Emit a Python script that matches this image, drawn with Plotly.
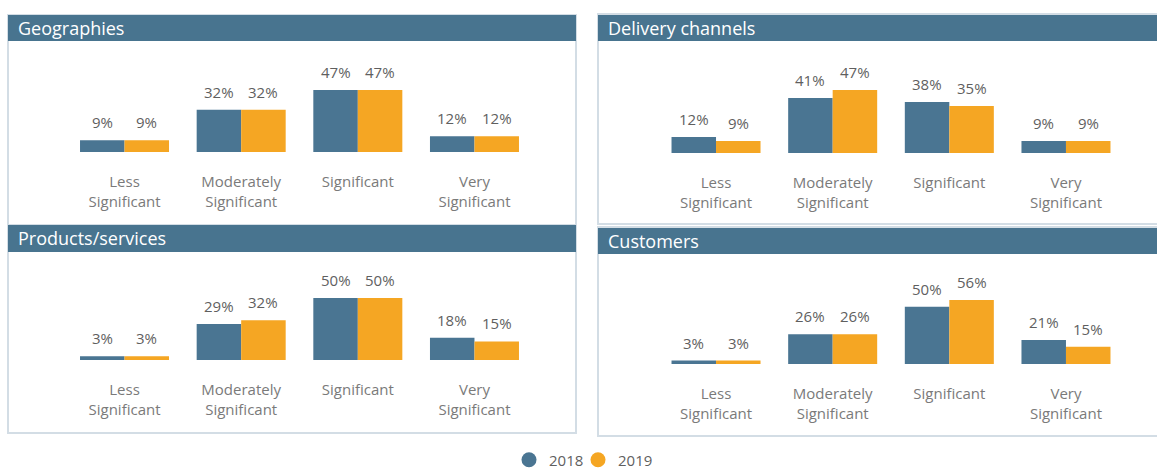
import plotly.graph_objects as go

# figure is slightly taller than the window so the legend never forces a margin
W, H = 1157, 480

categories = ["Less<br>Significant", "Moderately<br>Significant", "Significant", "Very<br>Significant"]
series_names = ["2018", "2019"]

geo_2018 = [9, 32, 47, 12]
geo_2019 = [9, 32, 47, 12]
deliv_2018 = [12, 41, 38, 9]
deliv_2019 = [9, 47, 35, 9]
prod_2018 = [3, 29, 50, 18]
prod_2019 = [3, 32, 50, 15]
cust_2018 = [3, 26, 50, 21]
cust_2019 = [3, 26, 56, 15]

panel_titles = ["Geographies", "Delivery channels", "Products/services", "Customers"]

C2018 = "#4a7592"
C2019 = "#f5a623"
HEADER = "#48748f"
BORDER = "#d3dde5"
LABEL = "#5f5f5f"
CAT = "#7a7a7a"


def fx(p):
    return p / W


def fy(p):
    return 1 - p / H


# panel layout in pixels
panels = [
    dict(title=panel_titles[0], d18=geo_2018, d19=geo_2019, xdom=(66.2, 532.8), ydom=(90, 152),
         box=(8, 15, 576, 225), head=(8, 15, 576, 41)),
    dict(title=panel_titles[1], d18=deliv_2018, d19=deliv_2019, xdom=(657.7, 1124.3), ydom=(90, 153),
         box=(598, 14, 1162, 224), head=(598, 15, 1162, 41)),
    dict(title=panel_titles[2], d18=prod_2018, d19=prod_2019, xdom=(66.2, 532.8), ydom=(298, 360),
         box=(8, 225, 576, 433), head=(8, 225, 576, 252)),
    dict(title=panel_titles[3], d18=cust_2018, d19=cust_2019, xdom=(657.7, 1124.3), ydom=(300, 364),
         box=(598, 227, 1162, 436), head=(598, 228, 1162, 254)),
]

fig = go.Figure()
shapes = []
annotations = []
layout_axes = {}

for i, p in enumerate(panels):
    n = "" if i == 0 else str(i + 1)
    xa, ya = "x" + n, "y" + n
    for name, vals, col in [(series_names[0], p["d18"], C2018), (series_names[1], p["d19"], C2019)]:
        fig.add_trace(go.Bar(x=categories, y=vals, name=name, marker=dict(color=col, line=dict(width=0)),
                             xaxis=xa, yaxis=ya, showlegend=False, hoverinfo="skip"))
        sgn = -1 if name == "2018" else 1
        for c, v in zip(categories, vals):
            annotations.append(dict(x=c, y=v, xref=xa, yref=ya, text=f"{v}%", showarrow=False,
                                    xshift=sgn * 22.3, yshift=18, yanchor="middle",
                                    font=dict(family="Open Sans", size=15, color=LABEL)))
    layout_axes["xaxis" + n] = dict(domain=[fx(p["xdom"][0]), fx(p["xdom"][1])], anchor=ya,
                                    showgrid=False, zeroline=False, showline=False,
                                    ticks="outside", ticklen=16, tickcolor="rgba(0,0,0,0)",
                                    tickfont=dict(family="Open Sans", size=15, color=CAT),
                                    fixedrange=True)
    maxv = max(max(p["d18"]), max(p["d19"]))
    layout_axes["yaxis" + n] = dict(domain=[fy(p["ydom"][1]), fy(p["ydom"][0])], anchor=xa,
                                    range=[0, maxv], visible=False, fixedrange=True)
    x0, y0, x1, y1 = p["box"]
    shapes.append(dict(type="rect", xref="paper", yref="paper", x0=fx(x0), x1=fx(x1), y0=fy(y1), y1=fy(y0),
                       line=dict(color=BORDER, width=2), fillcolor="rgba(0,0,0,0)", layer="below"))
    x0, y0, x1, y1 = p["head"]
    shapes.append(dict(type="rect", xref="paper", yref="paper", x0=fx(x0), x1=fx(x1), y0=fy(y1), y1=fy(y0),
                       line=dict(width=0), fillcolor=HEADER, layer="below"))
    annotations.append(dict(x=fx(x0 + 8), y=fy((y0 + y1) / 2), xref="paper", yref="paper", text=p["title"],
                            showarrow=False, xanchor="left", yanchor="middle",
                            font=dict(family="Open Sans", size=18, color="white")))

# legend-only traces (one small legend per year)
for name, col, lg in [(series_names[0], C2018, "legend"), (series_names[1], C2019, "legend2")]:
    fig.add_trace(go.Scatter(x=[None], y=[None], mode="markers", name=name, legend=lg,
                             marker=dict(color=col, size=15, symbol="circle"), xaxis="x", yaxis="y"))

legend_style = dict(orientation="h", xanchor="left", y=fy(460), yanchor="middle",
                    font=dict(family="Open Sans", size=15, color=LABEL), itemwidth=30,
                    bgcolor="rgba(0,0,0,0)")

fig.update_layout(
    width=W, height=H, margin=dict(l=0, r=0, t=0, b=0),
    paper_bgcolor="white", plot_bgcolor="rgba(0,0,0,0)",
    barmode="group", bargap=0.237, bargroupgap=0,
    shapes=shapes, annotations=annotations,
    showlegend=True,
    legend=dict(x=fx(509), **legend_style),
    legend2=dict(x=fx(578), **legend_style),
    **layout_axes,
)

fig.write_html("out.html", config={"displayModeBar": False},
               post_script="document.body.style.margin='0';document.body.style.overflow='hidden';")
